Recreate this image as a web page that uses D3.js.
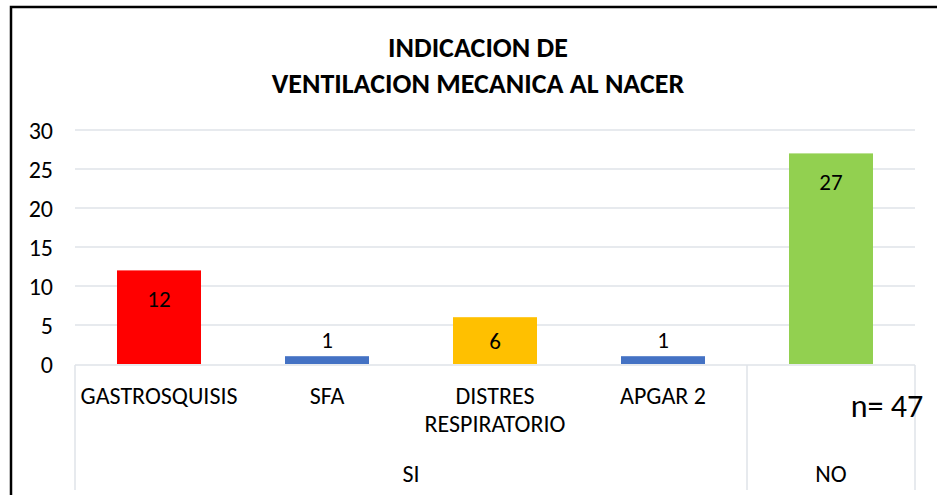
<!DOCTYPE html>
<html>
<head>
<meta charset="utf-8">
<script src="https://cdn.jsdelivr.net/npm/d3@7"></script>
<style>
  body { margin: 0; background: #fff; }
  svg text { font-family: Calibri, Carlito, Lato, "Open Sans", sans-serif; fill: #000; }
</style>
</head>
<body>
<div id="chart"></div>
<script>
//Data
var categories = ["GASTROSQUISIS", "SFA", "DISTRES RESPIRATORIO", "APGAR 2", ""];
var values = [12, 1, 6, 1, 27];
var barColors = ["#ff0000", "#4472c4", "#ffc000", "#4472c4", "#92d050"];
var groups = [{name: "SI", from: 0, to: 3}, {name: "NO", from: 4, to: 4}];
var yTicks = [0, 5, 10, 15, 20, 25, 30];
var titleLines = ["INDICACION DE", "VENTILACION MECANICA AL NACER"];
var note = "n= 47";

//Width and height
var w = 937;
var h = 495;
var plot = {left: 75, right: 915, top: 130, bottom: 364};

//Create SVG element
var svg = d3.select("#chart")
  .append("svg")
  .attr("width", w)
  .attr("height", h);

//Outer frame (only top and left edges visible in the original)
svg.append("rect")
  .attr("x", 11).attr("y", 7)
  .attr("width", 940).attr("height", 500)
  .attr("fill", "none")
  .attr("stroke", "#000")
  .attr("stroke-width", 2.5);

//Title
svg.selectAll("text.title")
  .data(titleLines)
  .enter()
  .append("text")
  .attr("class", "title")
  .attr("x", 478)
  .attr("y", function(d, i) { return 47 + i * 36; })
  .attr("dy", "0.36em")
  .attr("text-anchor", "middle")
  .style("font-weight", "bold")
  .style("font-size", "28px")
  .text(function(d) { return d; });

//Scales
var xScale = d3.scaleBand()
  .domain(d3.range(categories.length))
  .range([plot.left, plot.right])
  .paddingInner(0.5)
  .paddingOuter(0.25);

var yScale = d3.scaleLinear()
  .domain([0, 30])
  .range([plot.bottom, plot.top]);

//Gridlines
svg.append("g")
  .selectAll("line")
  .data(yTicks.slice(1))
  .enter()
  .append("line")
  .attr("x1", plot.left).attr("x2", plot.right)
  .attr("y1", function(d) { return yScale(d); })
  .attr("y2", function(d) { return yScale(d); })
  .attr("stroke", "#dfe3e8")
  .attr("stroke-width", 1.5);

//Y axis labels
var yAxis = d3.axisLeft(yScale).tickValues(yTicks).tickSize(0).tickPadding(22);
var gy = svg.append("g")
  .attr("transform", "translate(" + plot.left + ",0)")
  .call(yAxis);
gy.select(".domain").remove();
gy.selectAll("text")
  .style("font-size", "24px")
  .attr("dy", "0.36em");

//Bars
svg.append("g")
  .selectAll("rect")
  .data(values)
  .enter()
  .append("rect")
  .attr("x", function(d, i) { return xScale(i); })
  .attr("y", function(d) { return yScale(d); })
  .attr("width", xScale.bandwidth())
  .attr("height", function(d) { return yScale(0) - yScale(d); })
  .attr("fill", function(d, i) { return barColors[i]; });

//Data labels
svg.append("g")
  .selectAll("text")
  .data(values)
  .enter()
  .append("text")
  .attr("x", function(d, i) { return xScale(i) + xScale.bandwidth() / 2; })
  .attr("y", function(d) {
    var top = yScale(d), bottom = yScale(0);
    if (bottom - top < 30) return top - 16;
    return Math.min(top + 28, (top + bottom) / 2);
  })
  .attr("dy", "0.36em")
  .attr("text-anchor", "middle")
  .style("font-size", "23px")
  .text(function(d) { return d; });

//Category axis line
svg.append("line")
  .attr("x1", plot.left).attr("x2", plot.right)
  .attr("y1", plot.bottom + 1).attr("y2", plot.bottom + 1)
  .attr("stroke", "#dfe3e8")
  .attr("stroke-width", 1.5);

//Group separators
var step = xScale.step();
var sepX = [plot.left];
groups.forEach(function(g) { sepX.push(plot.left + (g.to + 1) * step); });
svg.append("g")
  .selectAll("line")
  .data(sepX)
  .enter()
  .append("line")
  .attr("x1", function(d) { return d; }).attr("x2", function(d) { return d; })
  .attr("y1", plot.bottom + 1).attr("y2", 490)
  .attr("stroke", "#dfe3e8")
  .attr("stroke-width", 1.5);

//Category labels (wrapped)
var catLabels = svg.append("g")
  .selectAll("text")
  .data(categories)
  .enter()
  .append("text")
  .attr("x", function(d, i) { return xScale(i) + xScale.bandwidth() / 2; })
  .attr("y", 395)
  .attr("dy", "0.36em")
  .attr("text-anchor", "middle")
  .style("font-size", "24px");

catLabels.each(function(d) {
  var words = d.split(" ");
  var lines = (d.length > 12 && words.length > 1) ? words : [d];
  var t = d3.select(this);
  lines.forEach(function(line, k) {
    t.append("tspan")
      .attr("x", t.attr("x"))
      .attr("dy", k === 0 ? "0.36em" : 28)
      .text(line);
  });
});

//Group labels
svg.append("g")
  .selectAll("text")
  .data(groups)
  .enter()
  .append("text")
  .attr("x", function(g) { return plot.left + (g.from + g.to + 1) / 2 * step; })
  .attr("y", 473)
  .attr("dy", "0.36em")
  .attr("text-anchor", "middle")
  .style("font-size", "24px")
  .text(function(g) { return g.name; });

//Sample size note
svg.append("text")
  .attr("x", 887)
  .attr("y", 405)
  .attr("dy", "0.36em")
  .attr("text-anchor", "middle")
  .style("font-size", "32px")
  .text(note);
</script>
</body>
</html>
